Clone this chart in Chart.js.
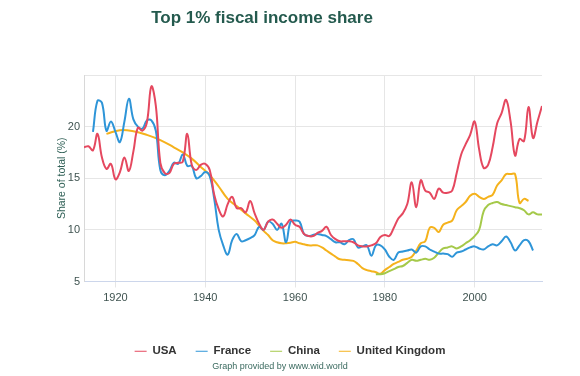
<!DOCTYPE html>
<html>
<head>
<meta charset="utf-8">
<script src="https://cdn.jsdelivr.net/npm/chart.js@4"></script>
<style>
  body { margin: 0; background: #fff; }
  canvas { display: block; }
</style>
</head>
<body>
<canvas id="chartShare" width="580" height="376"></canvas>
<script>
// top 1% fiscal income share (%)
const usaStart = 1913;
const usaValues = [
    18.0, 18.1, 17.7, 19.3, 17.0, 15.9, 16.4,
    14.9, 15.6, 17.0, 15.7, 17.6, 19.9, 19.6, 20.4, 23.9, 22.0,
    16.5, 15.5, 15.5, 16.4, 16.5, 16.6, 19.3, 16.3, 15.8, 16.3,
    16.4, 15.8, 13.4, 12.0, 11.3, 12.5, 13.2, 12.1, 12.1, 11.7,
    12.8, 11.6, 10.6, 10.0, 10.8, 11.0, 10.6, 10.2, 10.5, 11.0,
    10.5, 10.3, 9.6, 9.4, 9.4, 9.7, 9.9, 10.3, 9.5, 9.1,
    8.9, 8.9, 8.9, 8.8, 8.5, 8.4, 8.4, 8.5, 8.7, 9.3,
    9.5, 9.4, 10.2, 11.1, 11.6, 12.5, 14.6, 12.2, 14.8, 13.8,
    13.6, 13.0, 14.0, 13.6, 13.6, 13.8, 15.5, 17.3, 18.3, 19.2,
    20.5, 17.8, 16.0, 16.3, 18.0, 20.3, 21.3, 22.6, 20.5, 17.2,
    18.8, 18.6, 21.9, 18.9, 20.5, 22.0
];

const franceStart = 1915;
const franceValues = [
    19.5, 22.5, 22.3, 19.6, 20.5,
    19.5, 18.5, 20.5, 22.7, 20.7, 20.0, 19.8, 20.6, 20.6, 19.6,
    15.8, 15.3, 15.7, 16.5, 16.4, 17.3, 16.2, 16.2, 15.0, 15.2,
    15.6, 15.2, 13.0, 10.0, 8.5, 7.6, 9.0, 9.6, 8.9, 9.0,
    9.2, 9.5, 10.3, 10.0, 10.8, 10.6, 10.0, 10.6, 8.8, 10.8,
    10.9, 10.8, 9.6, 9.4, 9.5, 9.6, 9.5, 9.4, 9.1, 8.8,
    8.8, 8.6, 9.0, 9.1, 8.3, 8.4, 8.5, 7.5, 8.5, 8.5,
    8.1, 7.4, 7.1, 7.8, 7.9, 8.0, 8.1, 7.8, 8.4, 8.4,
    8.1, 7.9, 7.7, 7.7, 7.65, 7.4, 7.8, 7.9, 8.1, 8.3,
    8.4, 8.2, 8.1, 8.4, 8.6, 8.5, 8.9, 9.35, 8.8, 8.0,
    8.5, 9.0, 8.9, 8.0
];

const chinaStart = 1978;
const chinaValues = [
    5.7, 5.7,
    5.8, 6.0, 6.2, 6.4, 6.5, 6.8, 7.1, 7.0, 7.1, 7.2,
    7.1, 7.3, 7.8, 8.2, 8.3, 8.4, 8.2, 8.4, 8.7, 9.0,
    9.4, 10.0, 11.8, 12.4, 12.6, 12.7, 12.5, 12.4, 12.3, 12.2,
    12.1, 11.9, 11.5, 11.7, 11.5, 11.5
];

const ukYears = [
    1918, 1921, 1924, 1927, 1930, 1933, 1935, 1937, 1939,
    1941, 1943, 1945, 1947, 1949, 1951, 1952, 1953, 1954, 1955,
    1956, 1957, 1958, 1959, 1960, 1961, 1962, 1963, 1964, 1965,
    1966, 1967, 1968, 1969, 1970, 1971, 1972, 1973, 1974, 1975,
    1976, 1977, 1978, 1979, 1980, 1981, 1982, 1983, 1984, 1985,
    1986, 1987, 1988, 1989, 1990, 1991, 1992, 1993, 1994, 1995,
    1996, 1997, 1998, 1999, 2000, 2001, 2002, 2003, 2004, 2005,
    2006, 2007, 2008, 2009, 2010, 2011, 2012
];
const ukValues = [
    19.3, 19.65, 19.55, 19.2, 18.7, 18.0, 17.5, 16.9, 16.1,
    15.3, 14.2, 13.0, 12.3, 11.6, 10.9, 10.4, 9.9, 9.5, 9.0,
    8.8, 8.7, 8.7, 8.75, 8.85, 8.7, 8.6, 8.5, 8.5, 8.5,
    8.3, 8.0, 7.7, 7.4, 7.15, 7.1, 7.05, 7.0, 6.7, 6.3,
    6.1, 6.0, 5.9, 5.75, 6.1, 6.4, 6.7, 6.9, 7.1, 7.2,
    7.4, 8.0, 8.7, 8.9, 10.2, 10.2, 9.8, 10.5, 10.7, 10.9,
    11.9, 12.3, 12.7, 13.3, 13.5, 13.2, 13.0, 13.2, 13.4, 14.3,
    14.8, 15.4, 15.4, 15.4, 12.6, 13.0, 12.8
];

const xTicks = [1920, 1940, 1960, 1980, 2000];
const yTicks = [5, 10, 15, 20, 25];

const FONT = '"Liberation Sans", Arial, Helvetica, sans-serif';

function fromStart(start, values) {
    return values.map((v, i) => ({ x: start + i, y: v }));
}

function fromYears(years, values) {
    return values.map((v, i) => ({ x: years[i], y: v }));
}

// title and credits are placed where the reference has them
const extraText = {
    id: 'extraText',
    afterDraw(chart) {
        const ctx = chart.ctx;
        ctx.save();
        ctx.textAlign = 'center';
        ctx.textBaseline = 'middle';
        ctx.fillStyle = '#245a4e';
        ctx.font = 'bold 17px ' + FONT;
        ctx.fillText('Top 1% fiscal income share', 262, 18);
        ctx.fillStyle = '#3a6a5f';
        ctx.font = '9px ' + FONT;
        ctx.fillText('Graph provided by www.wid.world', 280, 367);
        ctx.restore();
    }
};

const ctxShare = document.getElementById('chartShare');

new Chart(ctxShare, {
    type: 'line',
    data: {
        datasets: [
            { label: 'USA', data: fromStart(usaStart, usaValues), borderColor: '#e5485f', backgroundColor: '#e5485f' },
            { label: 'France', data: fromStart(franceStart, franceValues), borderColor: '#2e95d8', backgroundColor: '#2e95d8' },
            { label: 'China', data: fromStart(chinaStart, chinaValues), borderColor: '#a5c94a', backgroundColor: '#a5c94a' },
            { label: 'United Kingdom', data: fromYears(ukYears, ukValues), borderColor: '#f5b21c', backgroundColor: '#f5b21c' }
        ]
    },
    options: {
        responsive: false,
        animation: false,
        layout: { padding: { top: 75, left: 38, right: 38, bottom: 9 } },
        elements: {
            point: { radius: 0 },
            line: { borderWidth: 2, tension: 0.4, fill: false }
        },
        plugins: {
            legend: {
                position: 'bottom',
                labels: {
                    usePointStyle: true,
                    pointStyle: 'line',
                    pointStyleWidth: 12,
                    padding: 19,
                    color: '#333333',
                    font: { family: FONT, size: 11.5, weight: 'bold' }
                }
            },
            title: { display: false },
            tooltip: { enabled: false }
        },
        scales: {
            x: {
                type: 'linear',
                min: 1913,
                max: 2015,
                afterBuildTicks: (scale) => {
                    scale.ticks = xTicks.map(v => ({ value: v }));
                },
                afterFit: (scale) => { scale.height = 45; },
                grid: { color: '#e6e6e6', tickLength: 6 },
                border: { color: '#ccd6eb' },
                ticks: {
                    padding: 4,
                    maxRotation: 0,
                    color: '#3f5350',
                    font: { family: FONT, size: 11 },
                    callback: (v) => String(v)
                }
            },
            y: {
                min: 5,
                max: 25,
                afterBuildTicks: (scale) => {
                    scale.ticks = yTicks.map(v => ({ value: v }));
                },
                afterFit: (scale) => { scale.width = 46; },
                grid: { color: '#e6e6e6', drawTicks: false },
                border: { color: '#d8d8d8' },
                ticks: {
                    padding: 4,
                    color: '#3f5350',
                    font: { family: FONT, size: 11 },
                    callback: (v) => (v === 25 ? '' : String(v))
                },
                title: {
                    display: true,
                    text: 'Share of total (%)',
                    color: '#2e5f55',
                    padding: { top: 18, bottom: 0 },
                    font: { family: FONT, size: 10.5 }
                }
            }
        }
    },
    plugins: [extraText]
});
</script>
</body>
</html>
